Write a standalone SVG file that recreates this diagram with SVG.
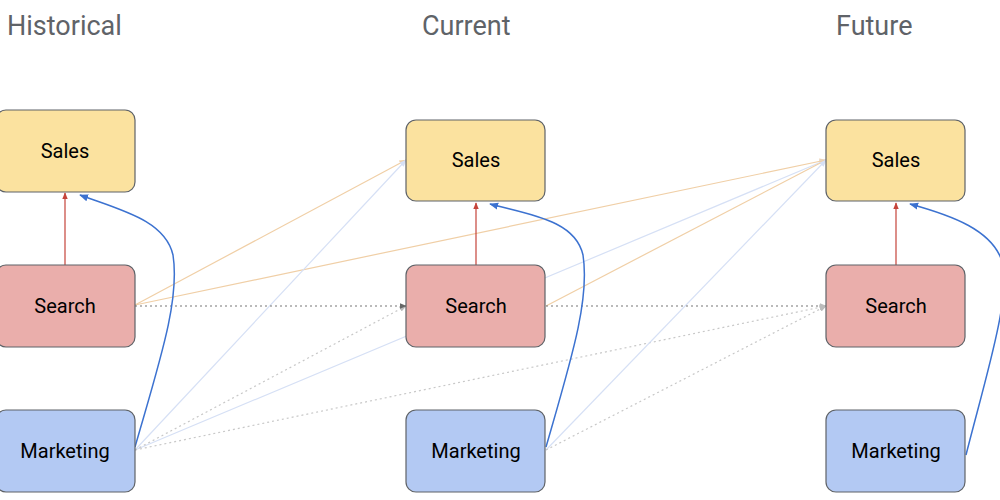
<svg xmlns="http://www.w3.org/2000/svg" width="1000" height="500" viewBox="0 0 1000 500">
<style>
.t{font-family:Roboto,"Liberation Sans",sans-serif;font-size:27px;fill:#5f6368}
.l{font-family:Roboto,"Liberation Sans",sans-serif;font-size:20px;fill:#000;text-anchor:middle}
.n{stroke:#5f6368;stroke-width:1.2}
.sa{fill:#fbe29f}.se{fill:#eaaeab}.ma{fill:#b3c9f3}
.c{fill:none;stroke-width:1.2}
.or{stroke:#f0cfa6}.lb{stroke:#d6e0f5}.dg{stroke:#777;stroke-dasharray:2 3}.dl{stroke:#c8c8c8;stroke-dasharray:2 3}
.rd{stroke:#c5443a}.bl{stroke:#3c72d0;stroke-width:1.5}
</style>
<defs>
<marker id="ar" viewBox="0 0 10 10" refX="9" refY="5" markerWidth="6" markerHeight="6" orient="auto"><path d="M0,1L10,5L0,9z" fill="#c5443a"/></marker>
<marker id="ab" viewBox="0 0 10 10" refX="9" refY="5" markerWidth="6" markerHeight="6" orient="auto"><path d="M0,1L10,5L0,9z" fill="#3c72d0"/></marker>
<marker id="ag" viewBox="0 0 10 10" refX="9" refY="5" markerWidth="6" markerHeight="6" orient="auto"><path d="M0,1L10,5L0,9z" fill="#666"/></marker>
<marker id="al" viewBox="0 0 10 10" refX="9" refY="5" markerWidth="6" markerHeight="6" orient="auto"><path d="M0,1L10,5L0,9z" fill="#bbb"/></marker>
<marker id="ao" viewBox="0 0 10 10" refX="9" refY="5" markerWidth="6" markerHeight="6" orient="auto"><path d="M0,1L10,5L0,9z" fill="#f0cfa6"/></marker>
<marker id="ac" viewBox="0 0 10 10" refX="9" refY="5" markerWidth="6" markerHeight="6" orient="auto"><path d="M0,1L10,5L0,9z" fill="#d6e0f5"/></marker>
</defs>
<text class="t" x="7" y="35">Historical</text>
<text class="t" x="422" y="35">Current</text>
<text class="t" x="836" y="35">Future</text>
<g id="connectors">
<path class="c or" d="M135,305L406,160" marker-end="url(#ao)"/>
<path class="c or" d="M135,305L826,160" marker-end="url(#ao)"/>
<path class="c lb" d="M135,450L406,160" marker-end="url(#ac)"/>
<path class="c lb" d="M135,450L826,160" marker-end="url(#ac)"/>
<path class="c dl" d="M135,450L406,306" marker-end="url(#al)"/>
<path class="c dl" d="M135,450L826,306" marker-end="url(#al)"/>
<path class="c dg" d="M135,306L406,306" marker-end="url(#ag)"/>
<path class="c or" d="M546,306L826,160" marker-end="url(#ao)"/>
<path class="c lb" d="M546,450L826,160" marker-end="url(#ac)"/>
<path class="c dl" d="M546,450L826,306" marker-end="url(#al)"/>
<path class="c dg" d="M546,306L826,306" marker-end="url(#al)"/>
<path class="c rd" d="M65,265L65,193" marker-end="url(#ar)"/>
<path class="c rd" d="M476,265L476,203" marker-end="url(#ar)"/>
<path class="c rd" d="M896,265L896,203" marker-end="url(#ar)"/>
<path class="c bl" d="M135,447C160,360 180,300 173,255C165,220 120,210 80,195" marker-end="url(#ab)"/>
<path class="c bl" d="M546,447C571,360 590,300 583,255C575,220 530,215 490,204" marker-end="url(#ab)"/>
<path class="c bl" d="M966,455C985,380 1010,300 1003,265C995,230 950,215 910,204" marker-end="url(#ab)"/>
</g>
<g id="hist-sales"><rect class="n sa" x="-4" y="110" width="139" height="82" rx="10"/><text class="l" x="65" y="158">Sales</text></g>
<g id="hist-search"><rect class="n se" x="-4" y="265" width="139" height="82" rx="10"/><text class="l" x="65" y="313">Search</text></g>
<g id="hist-marketing"><rect class="n ma" x="-4" y="410" width="139" height="82" rx="10"/><text class="l" x="65" y="458">Marketing</text></g>
<g id="cur-sales"><rect class="n sa" x="406" y="120" width="139" height="81" rx="10"/><text class="l" x="476" y="167">Sales</text></g>
<g id="cur-search"><rect class="n se" x="406" y="265" width="139" height="82" rx="10"/><text class="l" x="476" y="313">Search</text></g>
<g id="cur-marketing"><rect class="n ma" x="406" y="410" width="139" height="82" rx="10"/><text class="l" x="476" y="458">Marketing</text></g>
<g id="fut-sales"><rect class="n sa" x="826" y="120" width="139" height="81" rx="10"/><text class="l" x="896" y="167">Sales</text></g>
<g id="fut-search"><rect class="n se" x="826" y="265" width="139" height="82" rx="10"/><text class="l" x="896" y="313">Search</text></g>
<g id="fut-marketing"><rect class="n ma" x="826" y="410" width="139" height="82" rx="10"/><text class="l" x="896" y="458">Marketing</text></g>
</svg>
